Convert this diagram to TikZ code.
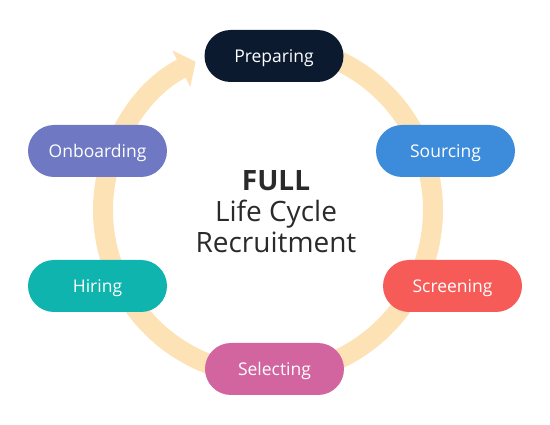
\documentclass[tikz,border=0pt]{standalone}
\usepackage{fontspec}
\setmainfont{Open Sans}
\usetikzlibrary{arrows.meta}
\definecolor{navy}{HTML}{0C1A30}
\definecolor{skyblue}{HTML}{3C8CDB}
\definecolor{coral}{HTML}{F65B58}
\definecolor{orchid}{HTML}{D264A0}
\definecolor{teal}{HTML}{0EB4AD}
\definecolor{lavender}{HTML}{6F78C2}
\definecolor{peach}{HTML}{FDE2B6}
\definecolor{ink}{HTML}{2A2A2A}
\tikzset{pill/.style={rounded corners=26pt,minimum width=139pt,minimum height=52pt,
 text=white,font=\fontsize{17.5}{20}\selectfont,inner sep=0pt,text height=12.5pt,text depth=0pt},
 ring/.style={line width=20pt,draw=peach,-{Triangle[length=16pt,width=40pt]}}}

\begin{document}
\begin{tikzpicture}[x=1pt,y=1pt]
\useasboundingbox (0,0) rectangle (550,-425);
\coordinate (hub) at (268,-210);
\draw[ring] (hub) ++(84:165pt) arc[start angle=84,end angle=-244,radius=165pt];

\node[pill,fill=navy] (prep) at (274,-56) {Preparing};
\node[pill,fill=skyblue] (sourcing) at (445.5,-151) {Sourcing};
\node[pill,fill=coral] (screening) at (452.5,-286) {Screening};
\node[pill,fill=orchid] (selecting) at (274.5,-369) {Selecting};
\node[pill,fill=teal] (hiring) at (97.5,-286) {Hiring};
\node[pill,fill=lavender] (onboarding) at (97.5,-151) {Onboarding};

\node[align=center,text=ink,font=\fontsize{28}{31}\selectfont] (title) at (276,-212)
 {\textbf{FULL}\\Life Cycle\\Recruitment};
\end{tikzpicture}
\end{document}
